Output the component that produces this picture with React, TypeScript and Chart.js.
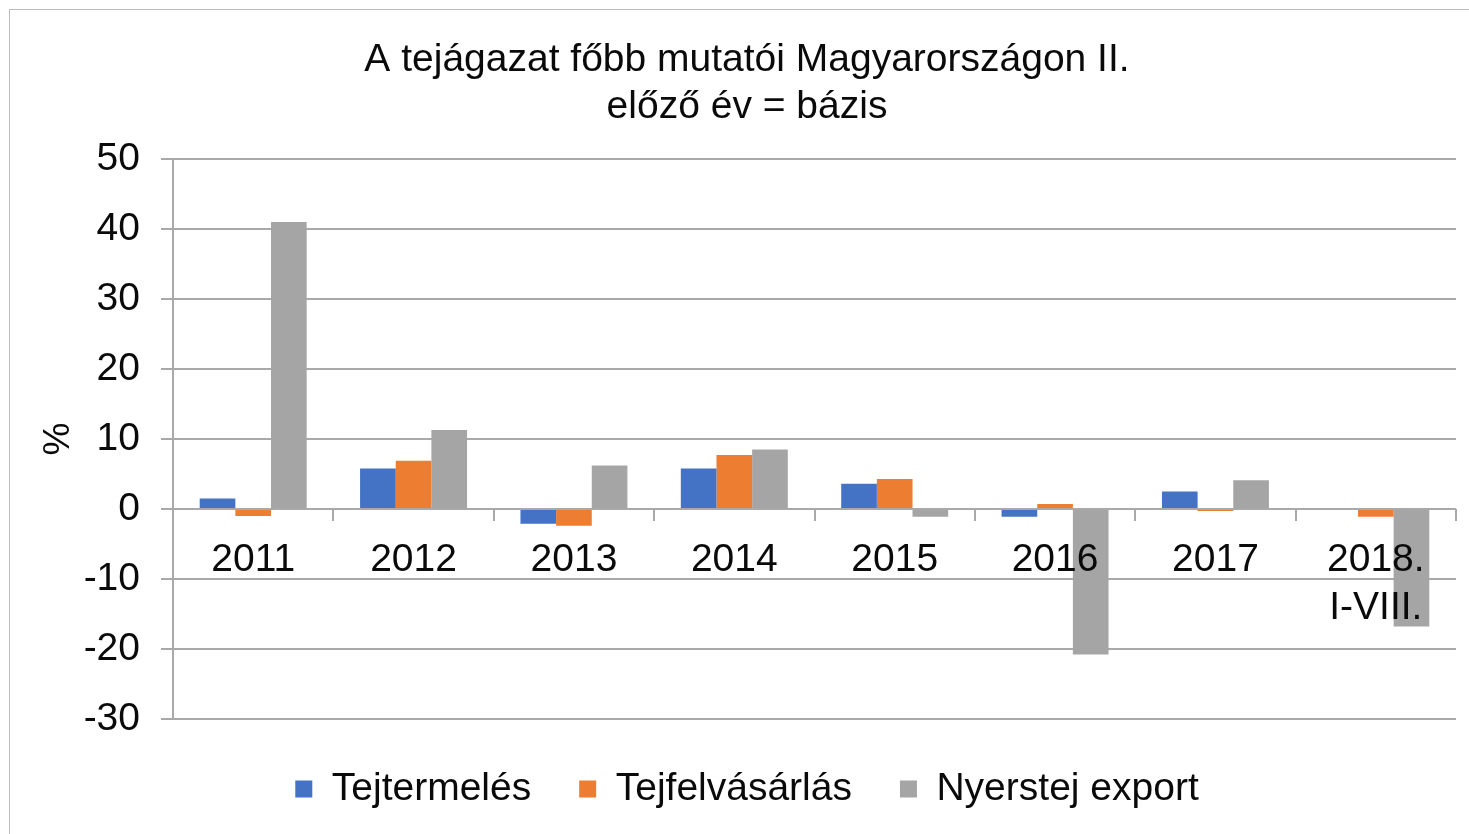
import React, { useEffect, useRef } from "react";
import { Chart, registerables } from "chart.js";

Chart.register(...registerables);

const categories: (string | string[])[] = ["2011", "2012", "2013", "2014", "2015", "2016", "2017", ["2018.", "I-VIII."]];
const tejtermeles = [1.5, 5.8, -2.1, 5.8, 3.6, -1.1, 2.5, 0];
const tejfelvasarlas = [-1.0, 6.9, -2.4, 7.7, 4.3, 0.7, -0.3, -1.1];
const nyerstejExport = [41.0, 11.3, 6.2, 8.5, -1.1, -20.8, 4.1, -16.8];
const seriesNames = ["Tejtermelés", "Tejfelvásárlás", "Nyerstej export"];
const titleLines = ["A tejágazat főbb mutatói Magyarországon II.", "előző év = bázis"];
const yAxisTitle = "%";

const FONT = "'Liberation Sans', Arial, sans-serif";
const GRID = "#a9a9a9";
const TEXT = "#0a0a0a";

export default function App() {
  const ref = useRef<HTMLCanvasElement | null>(null);

  useEffect(() => {
    if (!ref.current) return;
    Chart.defaults.font.family = FONT;
    const chart = new Chart(ref.current, {
      type: "bar",
      data: {
        labels: categories,
        datasets: [
          { label: seriesNames[0], data: tejtermeles, backgroundColor: "#4472C4", borderWidth: 0 },
          { label: seriesNames[1], data: tejfelvasarlas, backgroundColor: "#ED7D31", borderWidth: 0 },
          { label: seriesNames[2], data: nyerstejExport, backgroundColor: "#A5A5A5", borderWidth: 0 },
        ],
      },
      options: {
        responsive: false,
        animation: false,
        datasets: { bar: { categoryPercentage: 0.667, barPercentage: 1 } },
        layout: { padding: { left: 38, right: 13, top: 0, bottom: 15.5 } },
        plugins: {
          tooltip: { enabled: false },
          title: {
            display: true,
            text: titleLines,
            color: TEXT,
            font: { size: 39, weight: "normal", lineHeight: 1.2 },
            padding: { top: 37, bottom: 28.4 },
          },
          legend: {
            position: "bottom",
            title: { display: true, text: "", font: { size: 1, lineHeight: 1 }, padding: { top: 1.5, bottom: 0 } },
            labels: {
              color: TEXT,
              font: { size: 39 },
              boxWidth: 17,
              boxHeight: 17,
              padding: 48,
            },
          },
        },
        scales: {
          x: {
            position: { y: 0 } as any,
            grid: {
              drawOnChartArea: false,
              drawTicks: true,
              tickLength: 12,
              color: GRID,
              lineWidth: 2,
              offset: true,
              z: 1,
            },
            border: { display: false },
            ticks: {
              color: TEXT,
              font: { size: 39, lineHeight: 1.23 },
              padding: 15,
              maxRotation: 0,
              autoSkip: false,
              z: 1,
            },
          },
          y: {
            min: -30,
            max: 50,
            afterFit: (scale: any) => {
              scale.width = 135;
            },
            ticks: { stepSize: 10, color: TEXT, font: { size: 39 }, padding: 21 },
            grid: { color: GRID, lineWidth: 2, tickLength: 12, drawTicks: true },
            border: { display: true, color: GRID, width: 2 },
            title: {
              display: true,
              text: yAxisTitle,
              color: TEXT,
              font: { size: 37, lineHeight: 1 },
              padding: { top: 2, bottom: 0 },
            },
          },
        },
      },
    });
    return () => chart.destroy();
  }, []);

  return (
    <div style={{ position: "fixed", left: 0, top: 0, width: 1469, height: 834, overflow: "hidden", background: "#fff" }}>
      <div
        style={{
          position: "absolute",
          left: 9,
          top: 9,
          width: 1600,
          height: 1000,
          border: "1px solid #bdbdbd",
          boxSizing: "border-box",
        }}
      />
      <canvas ref={ref} width={1469} height={834} style={{ position: "absolute", left: 0, top: 0 }} />
    </div>
  );
}
